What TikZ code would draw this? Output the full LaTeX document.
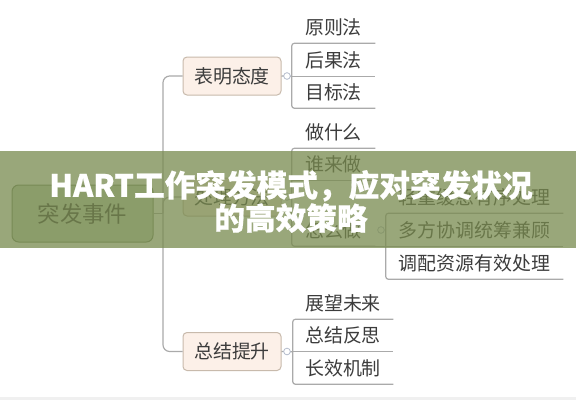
\documentclass[tikz,border=0pt]{standalone}
\usepackage{fontspec}
\setmainfont{Noto Sans CJK SC}
\newfontfamily\titlefont[BoldFeatures={FakeBold=0.6}]{Noto Sans CJK SC}
\definecolor{linegray}{RGB}{170,170,170}
\definecolor{txt}{RGB}{60,60,60}
\definecolor{boxfill}{RGB}{252,240,232}
\definecolor{boxdraw}{RGB}{200,186,172}
\definecolor{rootfill}{RGB}{196,214,190}
\definecolor{rootdraw}{RGB}{120,140,110}
\definecolor{bannercol}{RGB}{120,138,78}
\definecolor{knobcol}{RGB}{180,188,204}
\begin{document}
\begin{tikzpicture}[x=0.75pt,y=-0.75pt,
  conn/.style={draw=linegray, line width=0.9pt},
  topic/.style={draw=boxdraw, fill=boxfill, rounded corners=3pt, minimum width=73.5pt, minimum height=28.5pt, inner sep=0pt, text=txt, font=\fontsize{14.2}{16}\selectfont, line width=0.75pt},
  rootbox/.style={draw=rootdraw, fill=rootfill, rounded corners=5pt, minimum width=105.75pt, minimum height=42.75pt, inner sep=0pt, text=txt, font=\fontsize{16.8}{20}\selectfont, line width=0.75pt},
  leaf/.style={inner sep=0pt, minimum height=24pt, text=txt, font=\fontsize{14.2}{16}\selectfont},
  knob/.style={circle, draw=knobcol, fill=white, inner sep=0pt, minimum size=5pt, line width=0.6pt}
]
\useasboundingbox (0,0) rectangle (576,400);
\fill[white] (0,0) rectangle (576,400);
\fill[black!6] (0,397) rectangle (576,400);

% root and main topics
\node[rootbox] (root) at (82.5,213.5) {突发事件};
\node[topic] (b1) at (232,76) {表明态度};
\node[topic] (b2) at (232,197) {处理方法};
\node[topic] (b3) at (232,351.5) {总结提升};

\coordinate (trunk) at (163,213.5);
\draw[conn] (root.east) -- (trunk);
\draw[conn, rounded corners=5pt] (trunk) |- (b1.west);
\draw[conn, rounded corners=5pt] (trunk) |- (b2.west);
\draw[conn, rounded corners=5pt] (trunk) |- (b3.west);

% children of b1
\node[leaf, minimum width=62.25pt] (c11) at (333.5,27) {原则法};
\node[leaf, minimum width=62.25pt] (c12) at (333.5,60) {后果法};
\node[leaf, minimum width=62.25pt] (c13) at (333.5,92) {目标法};
\draw[conn, rounded corners=2pt] (c11.south east) -- (c11.south west) -- (c13.south west) -- (c13.south east);
\draw[conn] (c12.south west) -- (c12.south east);
\draw[conn] (b1.east) -- (c12.south west);
\node[knob] (k1) at (287,76) {};

% children of b2
\node[leaf, minimum width=62.25pt] (c21) at (333.5,132) {做什么};
\node[leaf, minimum width=62.25pt] (c22) at (333.5,164) {谁来做};
\node[leaf, minimum width=62.25pt] (c23) at (333.5,230) {怎么做};
\coordinate (j2) at (292,197);
\draw[conn, rounded corners=2pt] (c21.south east) -- (c21.south west) -- (c23.south west) -- (c23.south east);
\draw[conn] (c22.south west) -- (c22.south east);
\draw[conn] (b2.east) -- (j2);
\node[knob] (k2) at (287,197) {};

% children of c23
\node[leaf, minimum width=132.75pt] (d1) at (474.5,197) {轻重缓急有序处理};
\node[leaf, minimum width=132.75pt] (d2) at (474.5,230) {多方协调统筹兼顾};
\node[leaf, minimum width=132.75pt] (d3) at (474.5,263) {调配资源有效处理};
\draw[conn, rounded corners=2pt] (d1.south east) -- (d1.south west) -- (d3.south west) -- (d3.south east);
\draw[conn] (c23.south east) -- (d2.south west) -- (d2.south east);
\node[knob] (k23) at (381,230) {};

% children of b3
\node[leaf, minimum width=75pt] (c31) at (343,303) {展望未来};
\node[leaf, minimum width=75pt] (c32) at (343,335.5) {总结反思};
\node[leaf, minimum width=75pt] (c33) at (343,368) {长效机制};
\draw[conn, rounded corners=2pt] (c31.south east) -- (c31.south west) -- (c33.south west) -- (c33.south east);
\draw[conn] (c32.south west) -- (c32.south east);
\draw[conn] (b3.east) -- (c32.south west);
\node[knob] (k3) at (287,351.5) {};

% banner
\fill[bannercol, opacity=0.75] (0,151) rectangle (576,248);
\node[font=\titlefont\fontsize{23}{24.75}\selectfont\bfseries, text=white, align=center, inner sep=0pt] (title) at (291,201.5) {HART工作突发模式，应对突发状况\\的高效策略};
\end{tikzpicture}
\end{document}
